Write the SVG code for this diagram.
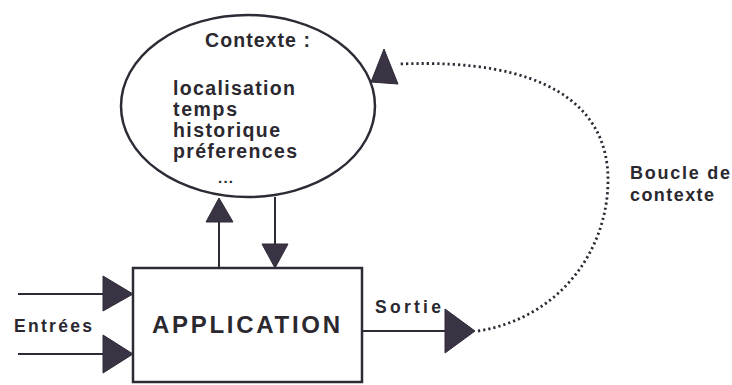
<svg xmlns="http://www.w3.org/2000/svg" width="732" height="385" viewBox="0 0 732 385">
<style>
.t{font-family:"Liberation Sans",Arial,sans-serif;font-weight:bold;fill:#2b2830}
.ln{stroke:#2e2a36;stroke-width:2;fill:none}
.ah{fill:#3a3344;stroke:#2e2a36;stroke-width:1}
.dot{stroke:#2e2a36;stroke-width:2.8;fill:none;stroke-dasharray:2.2 3}
</style>
<rect width="732" height="385" fill="#ffffff"/>
<g id="contexte">
<ellipse cx="248" cy="106" rx="127" ry="91" fill="#ffffff" stroke="#2e2a36" stroke-width="2.5"/>
<text class="t" x="205" y="47" font-size="19.5" textLength="105" lengthAdjust="spacing">Contexte :</text>
<text class="t" x="173" y="95" font-size="19.5" textLength="122" lengthAdjust="spacing">localisation</text>
<text class="t" x="173" y="116" font-size="19.5" textLength="64" lengthAdjust="spacing">temps</text>
<text class="t" x="173" y="137" font-size="19.5" textLength="107" lengthAdjust="spacing">historique</text>
<text class="t" x="173" y="158" font-size="19.5" textLength="124" lengthAdjust="spacing">préferences</text>
<text class="t" x="218" y="183" font-size="15" textLength="15" lengthAdjust="spacing">...</text>
</g>
<g id="application">
<rect x="133" y="268" width="229" height="114" fill="#ffffff" stroke="#2e2a36" stroke-width="2.5"/>
<text class="t" x="152" y="333" font-size="24" textLength="188" lengthAdjust="spacing">APPLICATION</text>
</g>
<g id="labels">
<text class="t" x="14" y="332" font-size="17.5" textLength="78" lengthAdjust="spacing">Entrées</text>
<text class="t" x="375" y="313" font-size="17.5" textLength="66" lengthAdjust="spacing">Sortie</text>
<text class="t" x="630" y="179" font-size="18" textLength="100" lengthAdjust="spacing">Boucle de</text>
<text class="t" x="630" y="201" font-size="18" textLength="84" lengthAdjust="spacing">contexte</text>
</g>
<g id="connectors">
<line class="ln" x1="18" y1="294" x2="104" y2="294"/>
<polygon class="ah" points="103,276 133,294 103,311"/>
<line class="ln" x1="18" y1="354" x2="104" y2="354"/>
<polygon class="ah" points="103,335 133,354 103,373"/>
<line class="ln" x1="219" y1="268" x2="219" y2="220"/>
<polygon class="ah" points="219,198 233,222 206,222"/>
<line class="ln" x1="275" y1="197" x2="275" y2="245"/>
<polygon class="ah" points="262,244 288,244 275,268"/>
<line class="ln" x1="362" y1="331" x2="446" y2="331"/>
<polygon class="ah" points="445,309 475,331 445,353"/>
<path class="dot" d="M 478 331 C 560 318, 608 250, 608 180 C 608 105, 545 58, 400 64"/>
<polygon class="ah" points="384,49 371,82 398,84"/>
</g>
</svg>
